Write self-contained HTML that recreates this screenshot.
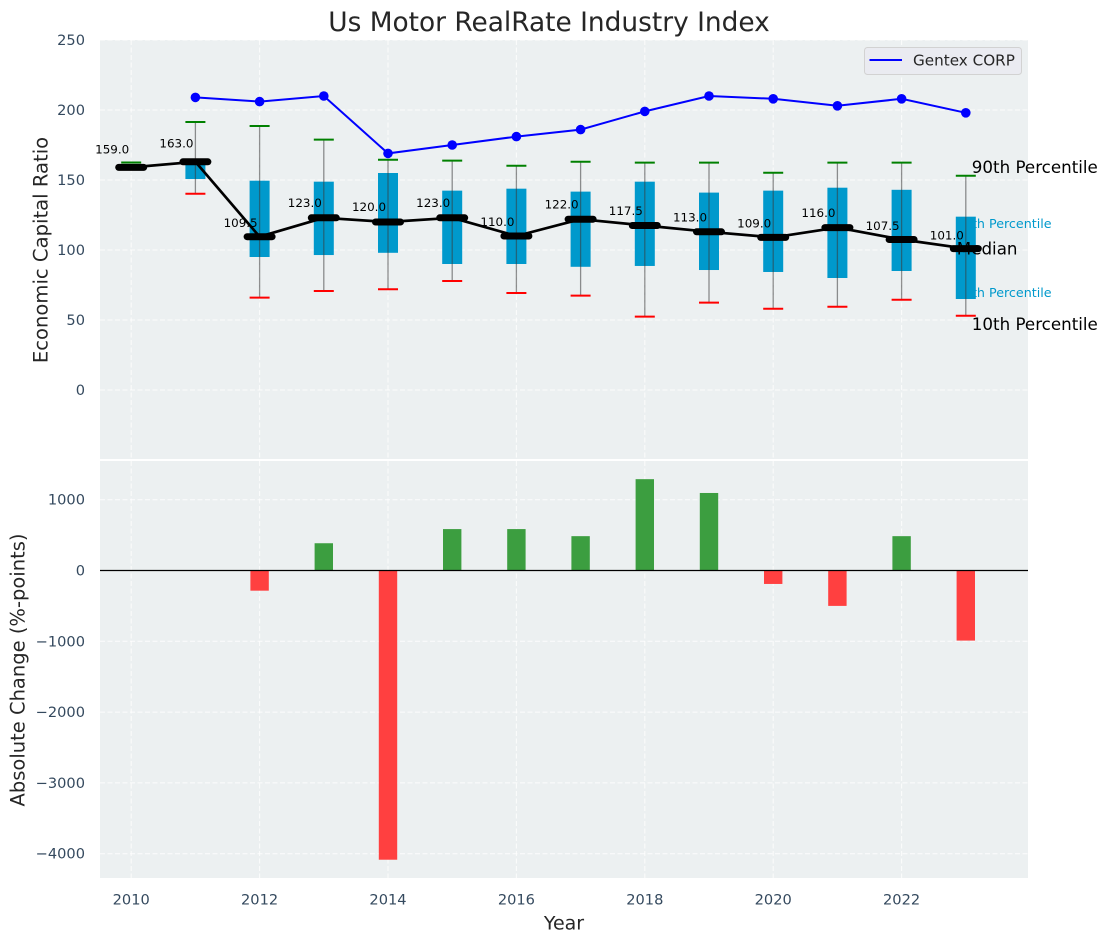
<!DOCTYPE html>
<html lang="en">
<head>
<meta charset="utf-8">
<title>Us Motor RealRate Industry Index</title>
<style>
html,body{margin:0;padding:0;background:#fff;width:1107px;height:942px;overflow:hidden}
svg{display:block}
text{font-family:"DejaVu Sans",sans-serif}
</style>
</head>
<body>
<svg id="chart" xmlns="http://www.w3.org/2000/svg" width="1107" height="942" viewBox="0 0 1107 942"></svg>
<script>
const years = [2010,2011,2012,2013,2014,2015,2016,2017,2018,2019,2020,2021,2022,2023];
const medians = [159,163,109.5,123,120,123,110,122,117.5,113,109,116,107.5,101];
const q3Values = [159,163,149.5,148.8,155,142.4,143.8,141.7,148.8,141,142.4,144.5,143,123.8];
const q1Values = [159,150.7,95,96.4,98,90,90,88,88.6,85.7,84.3,80,85,65];
const p90Values = [162.5,191.4,188.6,178.8,164.5,163.8,160.2,163,162.4,162.4,155.2,162.4,162.4,153];
const p10Values = [159,140.2,66,70.7,72,77.9,69.3,67.4,52.4,62.4,58,59.5,64.5,53];
const companyYears = [2011,2012,2013,2014,2015,2016,2017,2018,2019,2020,2021,2022,2023];
const companyValues = [209,206,210,169,175,181,186,199,210,208,203,208,198];
const changeYears = [2012,2013,2014,2015,2016,2017,2018,2019,2020,2021,2022,2023];
const changeValues = [-285,385,-4085,585,585,485,1290,1095,-190,-500,485,-990];
const xTicks = [2010,2012,2014,2016,2018,2020,2022];
const topTicks = [0,50,100,150,200,250];
const bottomTicks = [-4000,-3000,-2000,-1000,0,1000];

const svg = document.getElementById('chart');
const NS = 'http://www.w3.org/2000/svg';
const L = 100, R = 1028, T1 = 40, B1 = 459, T2 = 461, B2 = 878;
const xScale = v => 131.2 + (v - 2010) * 64.2;
const yTop = v => 390 - v * 1.4;
const yBottom = v => 570.5 - v * 0.0708;

function make(tag, props, parent) {
  const el = document.createElementNS(NS, tag);
  for (const k in props) el.setAttribute(k, props[k]);
  (parent || svg).appendChild(el);
  return el;
}
function label(str, x, y, size, fill, anchor, parent) {
  const el = make('text', {x: x, y: y, 'font-size': size, fill: fill, 'text-anchor': anchor || 'start'}, parent);
  el.textContent = str;
  return el;
}
function group(parent) {
  return make('g', {}, parent);
}

/* panels */
const topPanel = make('rect', {x: L, y: T1, width: R - L, height: B1 - T1, fill: '#ecf0f1'});


const bottomPanel = make('rect', {x: L, y: T2, width: R - L, height: B2 - T2, fill: '#ecf0f1'});



/* grid */
const gridGroup = group();


const gridStyle = {stroke: '#ffffff', 'stroke-width': 1, 'stroke-dasharray': '5 2.5', opacity: 0.85};
xTicks.forEach(t => {
  make('line', Object.assign({x1: xScale(t), x2: xScale(t), y1: T1, y2: B1}, gridStyle), gridGroup);
  make('line', Object.assign({x1: xScale(t), x2: xScale(t), y1: T2, y2: B2}, gridStyle), gridGroup);
});
topTicks.forEach(t => {
  make('line', Object.assign({x1: L, x2: R, y1: yTop(t), y2: yTop(t)}, gridStyle), gridGroup);
});
bottomTicks.forEach(t => {
  make('line', Object.assign({x1: L, x2: R, y1: yBottom(t), y2: yBottom(t)}, gridStyle), gridGroup);
});

/* tick labels */
const tickColor = '#34495e';
const tickSize = 14.6;
topTicks.forEach(t => {
  const el = label(String(t), 85, yTop(t) + 5, tickSize, tickColor, 'end');
  
  
});
bottomTicks.forEach(t => {
  const el = label(String(t).replace('-', '\u2212'), 85, yBottom(t) + 5, tickSize, tickColor, 'end');
  
  
});
xTicks.forEach(t => {
  const el = label(String(t), xScale(t), 904.5, tickSize, tickColor, 'middle');
  
  
});

/* titles */
const title = label('Us Motor RealRate Industry Index', 549, 31, 26.4, '#262626', 'middle');


const xTitle = label('Year', 564, 929.5, 19, '#262626', 'middle');


const yTitleTop = label('Economic Capital Ratio', 0, 0, 19.6, '#262626', 'middle');
yTitleTop.setAttribute('transform', 'translate(47.5 250) rotate(-90)');


const yTitleBottom = label('Absolute Change (%-points)', 0, 0, 19.5, '#262626', 'middle');
yTitleBottom.setAttribute('transform', 'translate(24.5 670) rotate(-90)');



/* percentile annotations, drawn under the boxes */
const lastIndex = years.length - 1;
const lastX = xScale(years[lastIndex]);
const p75Text = label('75th Percentile', lastX - 10, yTop(q3Values[lastIndex]) + 11.5, 12.7, '#0099cc');


const p25Text = label('25th Percentile', lastX - 10, yTop(q1Values[lastIndex]) - 2, 12.7, '#0099cc');



/* boxes, whiskers and caps */
years.forEach((yr, i) => {
  const x = xScale(yr);
  const g = group();
  
  
  make('rect', {x: x - 10, y: yTop(q3Values[i]), width: 20, height: yTop(q1Values[i]) - yTop(q3Values[i]), fill: '#0099cc'}, g);
  if (p90Values[i] - p10Values[i] > 10) {
    make('line', {x1: x, x2: x, y1: yTop(p90Values[i]), y2: yTop(p10Values[i]), stroke: '#3a3a3a', 'stroke-width': 1.3, opacity: 0.55}, g);
  }
  make('line', {x1: x - 10, x2: x + 10, y1: yTop(p90Values[i]), y2: yTop(p90Values[i]), stroke: '#008000', 'stroke-width': 2}, g);
  make('line', {x1: x - 10, x2: x + 10, y1: yTop(p10Values[i]), y2: yTop(p10Values[i]), stroke: '#ff0000', 'stroke-width': 2}, g);
});

/* median line */
const medianLine = make('polyline', {
  points: years.map((yr, i) => xScale(yr) + ',' + yTop(medians[i])).join(' '),
  fill: 'none', stroke: '#000', 'stroke-width': 2.7, 'stroke-linejoin': 'round'
});



years.forEach((yr, i) => {
  const x = xScale(yr), y = yTop(medians[i]);
  const tick = make('line', {x1: x - 12.5, x2: x + 12.5, y1: y, y2: y, stroke: '#000', 'stroke-width': 7, 'stroke-linecap': 'round'});
  
  
  const txt = label(medians[i].toFixed(1), x - 19, yTop(medians[i] * 1.06) - 0.7, 11.9, '#000', 'middle');
  
  
});

/* company series */
const companyLine = make('polyline', {
  points: companyYears.map((yr, i) => xScale(yr) + ',' + yTop(companyValues[i])).join(' '),
  fill: 'none', stroke: '#0000ff', 'stroke-width': 2
});


companyYears.forEach((yr, i) => {
  const pt = make('circle', {cx: xScale(yr), cy: yTop(companyValues[i]), r: 4.8, fill: '#0000ff'});
  
  
});

/* remaining annotations */
const p90Text = label('90th Percentile', lastX + 6, yTop(p90Values[lastIndex]) - 3, 16.7, '#000');


const medText = label('Median', lastX - 9, yTop(medians[lastIndex]) + 6, 16.7, '#000');


const p10Text = label('10th Percentile', lastX + 6, yTop(p10Values[lastIndex]) + 14, 16.7, '#000');



/* change bars */
changeYears.forEach((yr, i) => {
  const v = changeValues[i];
  const y0 = yBottom(Math.max(v, 0)), y1 = yBottom(Math.min(v, 0));
  const bar = make('rect', {x: xScale(yr) - 9.2, y: y0, width: 18.4, height: y1 - y0, fill: v >= 0 ? '#3c9e40' : '#ff4040'});
  
  
});
const zeroLine = make('line', {x1: L, x2: R, y1: yBottom(0), y2: yBottom(0), stroke: '#000', 'stroke-width': 1.2});



/* legend */
const legend = group();


make('rect', {x: 864.5, y: 47.5, width: 157, height: 27, rx: 3, fill: '#eaebf1', stroke: '#d2d2d2', 'stroke-width': 1}, legend);
make('line', {x1: 869.5, x2: 902, y1: 60, y2: 60, stroke: '#0000ff', 'stroke-width': 2}, legend);
const legendText = label('Gentex CORP', 913, 65.5, 15.2, '#262626', 'start', legend);


</script>
</body>
</html>
